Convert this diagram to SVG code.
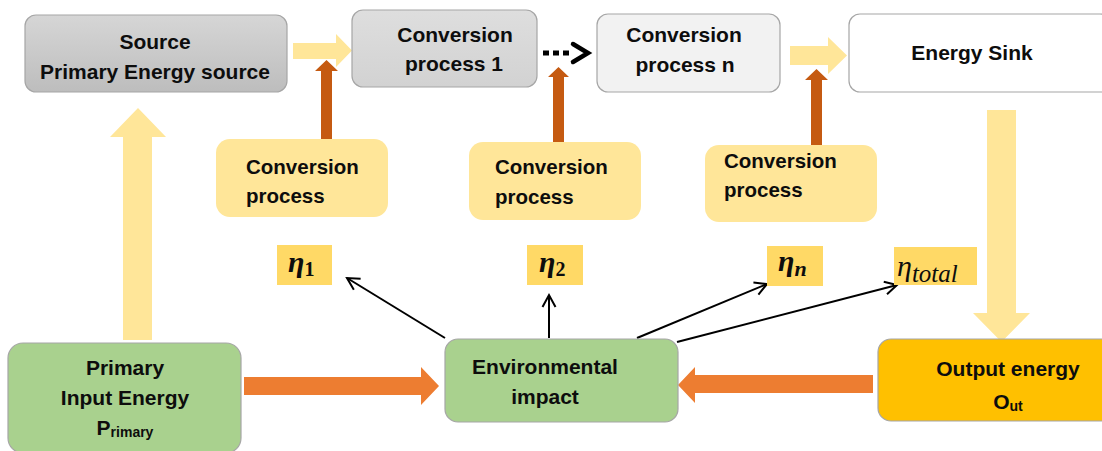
<svg xmlns="http://www.w3.org/2000/svg" width="1102" height="451" viewBox="0 0 1102 451">
<defs>
<linearGradient id="gSrc" x1="0" y1="0" x2="0" y2="1"><stop offset="0" stop-color="#d6d6d6"/><stop offset="1" stop-color="#bdbdbd"/></linearGradient>
<linearGradient id="gCp1" x1="0" y1="0" x2="0" y2="1"><stop offset="0" stop-color="#dedede"/><stop offset="1" stop-color="#d2d2d2"/></linearGradient>
<marker id="open" markerUnits="userSpaceOnUse" markerWidth="16" markerHeight="16" refX="13" refY="8" orient="auto" viewBox="0 0 16 16">
<path d="M1,1.5 L13,8 L1,14.5" fill="none" stroke="#000" stroke-width="2"/>
</marker>
<style>
.box{stroke:#a6a6a6;stroke-width:1.2}
.t{font-family:"Liberation Sans",Arial,sans-serif;font-weight:bold;font-size:20.5px;fill:#0d0d0d}
.tt{font-family:"Liberation Sans",Arial,sans-serif;font-weight:bold;font-size:21px;fill:#0d0d0d}
.tb{font-family:"Liberation Sans",Arial,sans-serif;font-weight:bold;font-size:21px;fill:#0d0d0d}
.cp{fill:#ffe699}
.eta{fill:#ffd966}
.g{font-family:"Liberation Serif","Times New Roman",serif;fill:#0d0d0d}
.ya{fill:#ffe699}
.oa{fill:#ed7d31}
.ba{fill:#c55a11}
.thin{stroke:#000;stroke-width:2;fill:none;marker-end:url(#open)}
</style>
</defs>
<rect width="1102" height="451" fill="#fff"/>

<g id="connectors">
<polygon class="ya" points="293,43 336,43 336,34 352,50.5 336,67 336,59 293,59"/>
<polygon class="ya" points="790,46 828,46 828,37 847,55.5 828,74 828,65 790,65"/>
<polygon class="ya" points="123,340 123,137 110,137 138,108 166,137 152,137 152,340"/>
<polygon class="ya" points="987,110 1016,110 1016,313 1030,313 1001.5,342 973,313 987,313"/>
<polygon class="ba" points="321,139 321,71 315,71 326.5,60 338,71 332,71 332,139"/>
<polygon class="ba" points="553,143 553,77 548,77 558.5,67 569,77 564,77 564,143"/>
<polygon class="ba" points="811,146 811,80 805,80 816.5,69 828,80 822,80 822,146"/>
<polygon class="oa" points="244,377 421,377 421,367 439,386 421,405 421,395 244,395"/>
<polygon class="oa" points="873,375 695,375 695,367 678,385 695,403 695,393 873,393"/>
<line x1="543" y1="53" x2="569" y2="53" stroke="#000" stroke-width="5" stroke-dasharray="6 4"/>
<polyline points="573,44 588,53 573,62" fill="none" stroke="#000" stroke-width="4.5" stroke-linejoin="miter" stroke-linecap="round"/>
<line class="thin" x1="445" y1="338" x2="347" y2="278"/>
<line class="thin" x1="549" y1="338" x2="549" y2="295"/>
<line class="thin" x1="637" y1="338" x2="767" y2="284"/>
<line class="thin" x1="677" y1="342" x2="897" y2="285"/>
</g>

<g id="source">
<rect class="box" x="25" y="15" width="262" height="77" rx="11" fill="url(#gSrc)"/>
<text class="tt" x="155" y="49" text-anchor="middle">Source</text>
<text class="tt" x="155" y="79" text-anchor="middle">Primary Energy source</text>
</g>
<g id="conv1">
<rect class="box" x="352" y="10" width="185" height="77" rx="11" fill="url(#gCp1)"/>
<text class="tt" x="455" y="42" text-anchor="middle">Conversion</text>
<text class="tt" x="454" y="71" text-anchor="middle">process 1</text>
</g>
<g id="convn">
<rect class="box" x="597" y="14" width="183" height="78" rx="11" fill="#f2f2f2"/>
<text class="tt" x="684" y="42" text-anchor="middle">Conversion</text>
<text class="tt" x="685" y="72" text-anchor="middle">process n</text>
</g>
<g id="sink">
<rect class="box" x="849" y="14" width="262" height="78" rx="11" fill="#fff"/>
<text class="tt" x="972" y="60" text-anchor="middle">Energy Sink</text>
</g>

<g id="cpa">
<rect class="cp" x="216" y="139" width="172" height="78" rx="14"/>
<text class="t" x="246" y="174">Conversion</text>
<text class="t" x="246" y="203">process</text>
</g>
<g id="cpb">
<rect class="cp" x="469" y="142" width="172" height="78" rx="14"/>
<text class="t" x="495" y="174">Conversion</text>
<text class="t" x="495" y="204">process</text>
</g>
<g id="cpc">
<rect class="cp" x="705" y="145" width="172" height="77" rx="14"/>
<text class="t" x="724" y="168">Conversion</text>
<text class="t" x="724" y="197">process</text>
</g>

<g id="eta1">
<rect class="eta" x="277" y="245" width="55" height="40"/>
<text class="g" x="288" y="272" font-size="30" font-weight="bold" font-style="italic">η<tspan font-size="20" font-style="normal" dy="4">1</tspan></text>
</g>
<g id="eta2">
<rect class="eta" x="527" y="245" width="56" height="40"/>
<text class="g" x="539" y="272" font-size="30" font-weight="bold" font-style="italic">η<tspan font-size="20" font-style="normal" dy="4">2</tspan></text>
</g>
<g id="etan">
<rect class="eta" x="767" y="246" width="56" height="40"/>
<text class="g" x="778" y="271" font-size="30" font-weight="bold" font-style="italic">η<tspan font-size="22" dy="5">n</tspan></text>
</g>
<g id="etatotal">
<rect class="eta" x="894" y="247" width="83" height="38"/>
<text class="g" x="897" y="276" font-size="30" font-style="italic">η<tspan font-size="25" dy="6">total</tspan></text>
</g>

<g id="primary">
<rect class="box" x="8" y="343" width="233" height="110" rx="15" fill="#a9d18e"/>
<text class="tb" x="125" y="375" text-anchor="middle">Primary</text>
<text class="tb" x="125" y="405" text-anchor="middle">Input Energy</text>
<text class="tb" x="125" y="435" text-anchor="middle">P<tspan font-size="14" dy="2">rimary</tspan></text>
</g>
<g id="env">
<rect class="box" x="445" y="339" width="233" height="83" rx="13" fill="#a9d18e"/>
<text class="tb" x="545" y="374" text-anchor="middle">Environmental</text>
<text class="tb" x="545" y="404" text-anchor="middle">impact</text>
</g>
<g id="output">
<rect class="box" x="878" y="339" width="240" height="82" rx="13" fill="#ffc000"/>
<text class="tb" x="1008" y="376" text-anchor="middle">Output energy</text>
<text class="tb" x="1008" y="409" text-anchor="middle">O<tspan font-size="14" dy="2">ut</tspan></text>
</g>
</svg>
